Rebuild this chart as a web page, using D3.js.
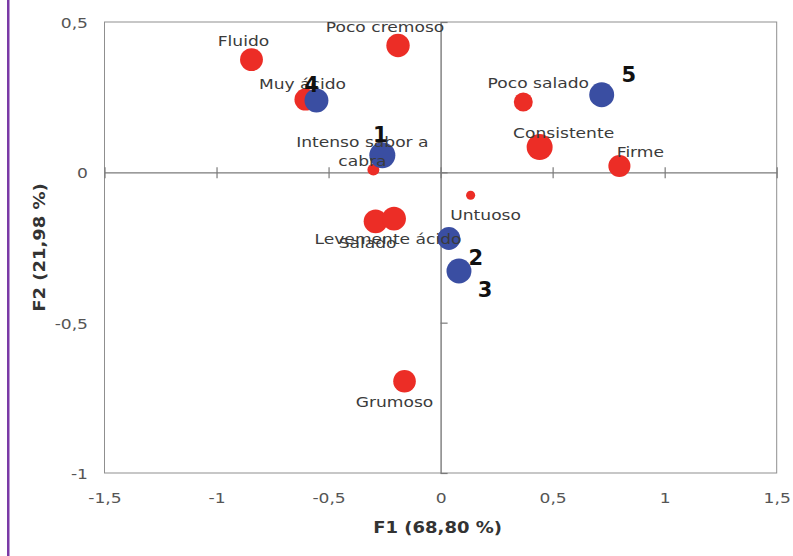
<!DOCTYPE html>
<html><head><meta charset="utf-8">
<script src="https://cdn.jsdelivr.net/npm/d3@7"></script>
<style>html,body{margin:0;padding:0;background:#fff;}svg{display:block;}</style>
</head><body>
<svg id="c" width="793" height="556"></svg>
<script>
// ---- data ----
const attrNames = ["Fluido","Poco cremoso","Muy ácido","Intenso sabor a\ncabra","Poco salado","Consistente","Firme","Untuoso","Salado","Levemente ácido","Grumoso"];
const attrF1 =    [-0.844, -0.190, -0.603, -0.300, 0.369, 0.442, 0.798, 0.134, -0.290, -0.208, -0.161];
const attrF2 =    [ 0.375,  0.422,  0.242,  0.009, 0.234, 0.084, 0.021, -0.076, -0.163, -0.154, -0.695];
const attrSize =  [ 8.8, 9.0, 8.5, 4.6, 7.3, 10.0, 8.5, 3.5, 9.2, 9.2, 8.7];
const sampleNames = ["1","2","3","4","5"];
const sampleF1 =  [-0.260, 0.037, 0.082, -0.554, 0.719];
const sampleF2 =  [ 0.057, -0.220, -0.328, 0.239, 0.258];
const sampleSize = [10.0, 8.8, 9.6, 9.2, 9.6];
const xTicks = [-1.5,-1,-0.5,0,0.5,1,1.5];
const xTickLabels = ["-1,5","-1","-0,5","0","0,5","1","1,5"];
const yTicks = [-1,-0.5,0,0.5];
const yTickLabels = ["-1","-0,5","0","0,5"];
const xTitle = "F1 (68,80 %)";
const yTitle = "F2 (21,98 %)";

// ---- layout (label offsets in px from marker centre) ----
const attrLabelOff = {
  "Fluido":[-8,-14], "Poco cremoso":[-13,-13], "Muy ácido":[-3,-11],
  "Intenso sabor a\ncabra":[-11,-23], "Poco salado":[15,-14], "Consistente":[24,-9],
  "Firme":[21,-9], "Untuoso":[15,25], "Salado":[-8,27], "Levemente ácido":[-6,25], "Grumoso":[-10,26]
};
const sampleLabelOff = {"1":[-2,-13],"2":[27,27],"3":[26,26],"4":[-5,-8],"5":[27,-13]};
const SX = 1.18;

const svg = d3.select("#c");
const x = d3.scaleLinear().domain([-1.5,1.5]).range([104.5,776.7]);
const y = d3.scaleLinear().domain([-1,0.5]).range([473,22]);
const r = d3.scaleLinear().domain([0,10]).range([0,13]);
const font = "'DejaVu Sans', Verdana, sans-serif";

// purple side rule
svg.append("rect").attr("x",7).attr("y",0).attr("width",2.5).attr("height",556).attr("fill","#7a3aa6");

// plot frame
svg.append("rect").attr("x",x(-1.5)).attr("y",y(0.5)).attr("width",x(1.5)-x(-1.5)).attr("height",y(-1)-y(0.5))
  .attr("fill","none").attr("stroke","#8f8f8f").attr("stroke-width",1);

// zero axes
const gx0 = svg.append("g").attr("transform",`translate(0,${y(0)})`)
  .call(d3.axisBottom(x).tickValues(xTicks).tickSizeInner(6).tickSizeOuter(0).tickFormat(""));
gx0.select(".domain").attr("stroke","#7a7a7a").attr("stroke-width",1.4);
gx0.selectAll(".tick line").attr("y1",-5).attr("y2",6).attr("stroke","#7a7a7a").attr("stroke-width",1.2);

const gy0 = svg.append("g").attr("transform",`translate(${x(0)},0)`)
  .call(d3.axisRight(y).tickValues(yTicks).tickSizeInner(7).tickSizeOuter(0).tickFormat(""));
gy0.select(".domain").attr("stroke","#7a7a7a").attr("stroke-width",1.4);
gy0.selectAll(".tick line").attr("stroke","#7a7a7a").attr("stroke-width",1.2);

// tick labels (bottom / left)
const gxb = svg.append("g").attr("transform",`translate(0,${y(-1)})`)
  .call(d3.axisBottom(x).tickValues(xTicks).tickSize(0).tickFormat((d,i)=>xTickLabels[i]));
gxb.select(".domain").remove();
gxb.selectAll("text").attr("x",null).attr("y",null).attr("dy",null)
  .attr("transform",`translate(0,30) scale(${SX},1)`)
  .attr("font-family",font).attr("font-size",14.5).attr("fill","#555");

const gyl = svg.append("g").attr("transform",`translate(88,0)`)
  .call(d3.axisLeft(y).tickValues(yTicks).tickSize(0).tickFormat((d,i)=>yTickLabels[i]));
gyl.select(".domain").remove();
gyl.selectAll("text").attr("x",null).attr("y",null).attr("dy",null)
  .attr("transform",`translate(0,5.5) scale(${SX},1)`)
  .attr("font-family",font).attr("font-size",14.5).attr("fill","#555").attr("text-anchor","end");

// axis titles
svg.append("text").attr("transform",`translate(${(x(-1.5)+x(1.5))/2 - 3},533) scale(1.2,1)`)
  .attr("text-anchor","middle").attr("font-family",font).attr("font-weight","bold").attr("font-size",15)
  .attr("fill","#333").text(xTitle);
svg.append("text").attr("transform",`translate(45,${(y(-1)+y(0.5))/2}) rotate(-90) scale(1.2,1)`)
  .attr("text-anchor","middle").attr("font-family",font).attr("font-weight","bold").attr("font-size",15)
  .attr("fill","#333").text(yTitle);

const attrs = attrNames.map((n,i)=>({name:n,f1:attrF1[i],f2:attrF2[i],s:attrSize[i]}));
const samples = sampleNames.map((n,i)=>({name:n,f1:sampleF1[i],f2:sampleF2[i],s:sampleSize[i]}));

// markers
svg.append("g").selectAll("circle").data(attrs).join("circle")
  .attr("cx",d=>x(d.f1)).attr("cy",d=>y(d.f2)).attr("r",d=>r(d.s)).attr("fill","#ec2d26");
svg.append("g").selectAll("circle").data(samples).join("circle")
  .attr("cx",d=>x(d.f1)).attr("cy",d=>y(d.f2)).attr("r",d=>r(d.s)).attr("fill","#3a4ea2");

// attribute labels
const al = svg.append("g").selectAll("text").data(attrs).join("text")
  .attr("transform",d=>{const o=attrLabelOff[d.name];return `translate(${x(d.f1)+o[0]},${y(d.f2)+o[1]}) scale(${SX},1)`;})
  .attr("text-anchor","middle").attr("font-family",font).attr("font-size",14.5).attr("fill","#3b3b3b");
al.each(function(d){
  const lines=d.name.split("\n"); const t=d3.select(this);
  lines.forEach((l,i)=>t.append("tspan").attr("x",0).attr("dy",i===0?0:19).text(l));
});

// sample labels
svg.append("g").selectAll("text").data(samples).join("text")
  .attr("x",d=>x(d.f1)+sampleLabelOff[d.name][0]).attr("y",d=>y(d.f2)+sampleLabelOff[d.name][1])
  .attr("text-anchor","middle").attr("font-family",font).attr("font-weight","bold").attr("font-size",21)
  .attr("fill","#111").text(d=>d.name);
</script>
</body></html>
